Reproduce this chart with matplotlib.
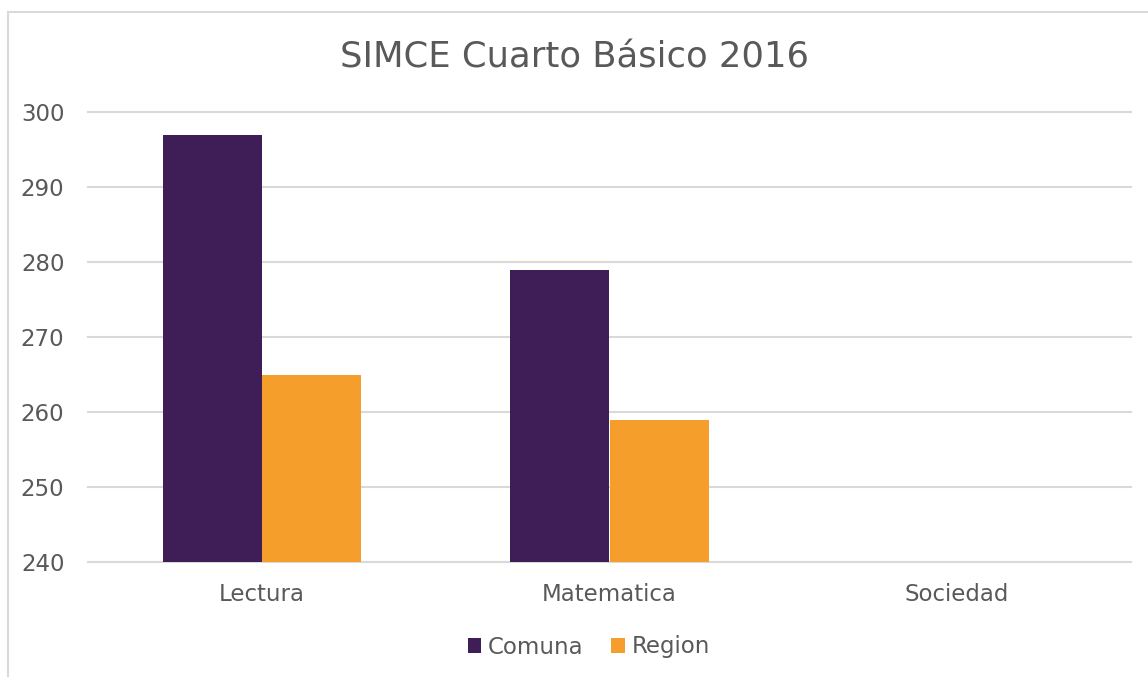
import matplotlib
matplotlib.use("Agg")
import numpy as np
import matplotlib.pyplot as plt
from matplotlib.patches import Rectangle

# data
categories = ["Lectura", "Matematica", "Sociedad"]
comuna = [297, 279, np.nan]
region = [265, 259, np.nan]
series_names = ["Comuna", "Region"]

TEXT = "#595959"
GRID = "#D9D9D9"
COLORS = ["#3F1D57", "#F59E2B"]

plt.rcParams["font.family"] = ["DejaVu Sans"]

fig = plt.figure(figsize=(11.48, 6.77), dpi=100)
ax = fig.add_axes([88 / 1148, 1 - 562 / 677, (1131 - 88) / 1148, (562 - 112) / 677])

# chart border (cropped at right/bottom)
fig.patches.append(Rectangle((8 / 1148, -0.1), 1.2, 1 - 12 / 677 + 0.1,
                             transform=fig.transFigure, fill=False,
                             edgecolor=GRID, linewidth=1.5))

x = np.arange(len(categories))
width = 0.285
ax.bar(x - width / 2, comuna, width, color=COLORS[0], label=series_names[0], zorder=3)
ax.bar(x + width / 2, region, width, color=COLORS[1], label=series_names[1], zorder=3)

ax.set_xlim(-0.5, len(categories) - 0.5)
ax.set_ylim(240, 300)
ax.set_yticks(np.arange(240, 301, 10))
ax.set_xticks(x)
ax.set_xticklabels(categories)
ax.grid(axis="y", color=GRID, linewidth=1.5, zorder=0)
for gl in ax.get_ygridlines():
    gl.set_clip_on(False)
for s in ax.spines.values():
    s.set_visible(False)
ax.tick_params(axis="both", length=0, labelsize=16.5, colors=TEXT)
ax.tick_params(axis="x", pad=15)
ax.tick_params(axis="y", pad=17)

fig.suptitle("SIMCE Cuarto Básico 2016", y=1 - 57 / 677, va="center",
             fontsize=25.5, color=TEXT)

leg = fig.legend(loc="center", bbox_to_anchor=(589 / 1148, 1 - 647 / 677), ncol=2,
                 frameon=False, fontsize=16.5, handlelength=0.6, handleheight=0.6,
                 handletextpad=0.3, columnspacing=1.2)
for t in leg.get_texts():
    t.set_color(TEXT)

fig.savefig("out.png", dpi=100)
